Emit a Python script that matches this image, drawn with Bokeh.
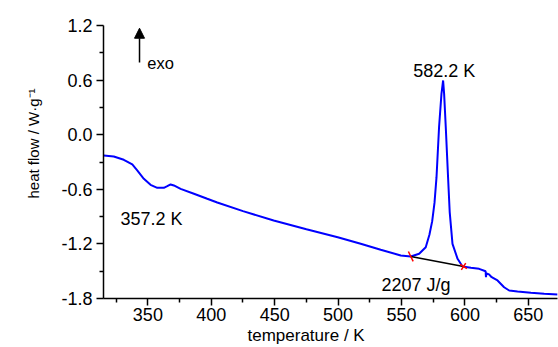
from bokeh.plotting import figure
from bokeh.models import (FixedTicker, PrintfTickFormatter, Label, Arrow,
                          NormalHead, Range1d, Title)
from bokeh.embed import file_html
from bokeh.resources import INLINE

# ---- data ----
temperature = [315.2, 323.1, 331.0, 337.7, 341.6, 346.8, 352.1, 357.4, 362.6,
               365.3, 367.9, 370.5, 375.8, 386.3, 396.8, 404.7, 425.0, 449.2,
               475.0, 499.7, 517.8, 533.6, 549.4, 557.3, 563.9, 569.1, 572.0,
               574.2, 576.0, 577.6, 579.6, 581.5, 582.8, 583.6, 584.9, 586.7,
               588.0, 590.2, 594.2, 598.1, 604.7, 611.2, 616.3, 616.6, 617.0,
               619.0, 621.1, 625.7, 630.9, 634.9, 641.5, 652.0, 662.5, 673.1]
heat_flow = [-0.229, -0.240, -0.276, -0.327, -0.393, -0.485, -0.551, -0.584,
             -0.584, -0.566, -0.547, -0.558, -0.595, -0.649, -0.704, -0.745,
             -0.840, -0.943, -1.040, -1.126, -1.199, -1.265, -1.327, -1.338,
             -1.309, -1.236, -1.100, -0.950, -0.750, -0.467, 0.082, 0.449,
             0.596, 0.449, 0.082, -0.467, -0.850, -1.199, -1.364, -1.448,
             -1.463, -1.474, -1.500, -1.565, -1.525, -1.535, -1.566, -1.602,
             -1.676, -1.712, -1.723, -1.737, -1.748, -1.756]

# integration baseline (onset / end points)
base_T = [557.3, 598.9]
base_HF = [-1.338, -1.448]

x_ticks = [350, 400, 450, 500, 550, 600, 650]
x_minor = [325, 375, 425, 475, 525, 575, 625, 675]
y_ticks = [-1.8, -1.2, -0.6, 0.0, 0.6, 1.2]
y_minor = [-1.5, -0.9, -0.3, 0.3, 0.9]

x_title = "temperature / K"
y_title = "heat flow / W\u00b7g\u207b\u00b9"
peak_label = "582.2 K"
glass_label = "357.2 K"
enthalpy_label = "2207 J/g"

FONT = "Liberation Sans"

p = figure(width=558, height=347, output_backend="svg", toolbar_location=None,
           x_range=Range1d(315, 673), y_range=Range1d(-1.8, 1.2),
           min_border_left=103, min_border_right=1, min_border_top=25,
           min_border_bottom=49, background_fill_color="white",
           border_fill_color="white")
p.outline_line_color = None
p.grid.visible = False

p.line(temperature, heat_flow, line_color="#0000FF", line_width=2)
p.line(base_T, base_HF, line_color="black", line_width=1.5)
p.scatter(base_T[0:1], base_HF[0:1], marker="dash", size=11,
          angle=-1.12, line_color="red", line_width=1.5)
p.scatter(base_T[1:2], base_HF[1:2], marker="x", size=8,
          angle=0.2, line_color="red", line_width=1.5)

for ax in (p.xaxis[0], p.yaxis[0]):
    ax.axis_line_width = 1.5
    ax.major_tick_line_width = 1.5
    ax.minor_tick_line_width = 1.5
    ax.major_tick_out = 7
    ax.major_tick_in = 0
    ax.minor_tick_out = 4
    ax.minor_tick_in = 0
    ax.major_label_text_font = FONT
    ax.major_label_text_font_size = "18px"
    ax.major_label_text_color = "black"
    ax.axis_line_color = "black"
    ax.major_tick_line_color = "black"
    ax.minor_tick_line_color = "black"

p.xaxis.ticker = FixedTicker(ticks=x_ticks, minor_ticks=x_minor)
p.yaxis.ticker = FixedTicker(ticks=y_ticks, minor_ticks=y_minor)
p.yaxis.formatter = PrintfTickFormatter(format="%.1f")
p.xaxis.major_label_standoff = 2
p.yaxis.major_label_standoff = 4

# axis titles as side titles (placed off-centre like the reference)
p.add_layout(Title(text=x_title, align="left", offset=144, standoff=0,
                   text_font=FONT, text_font_size="17px",
                   text_font_style="normal", text_color="black"), "below")
p.add_layout(Title(text=y_title, align="left", offset=100, standoff=33,
                   text_font=FONT, text_font_size="15px",
                   text_font_style="normal", text_color="black"), "left")

# annotations
p.add_layout(Label(x=583.7, y=0.705, text=peak_label, text_align="center",
                   text_baseline="alphabetic", text_font=FONT,
                   text_font_size="18px", text_color="black"))
p.add_layout(Label(x=328.4, y=-0.924, text=glass_label, text_align="left",
                   text_baseline="alphabetic", text_font=FONT,
                   text_font_size="18px", text_color="black"))
p.add_layout(Label(x=534.2, y=-1.657, text=enthalpy_label, text_align="left",
                   text_baseline="alphabetic", text_font=FONT,
                   text_font_size="18px", text_color="black"))
p.add_layout(Label(x=349.5, y=0.793, text="exo", text_align="left",
                   text_baseline="alphabetic", text_font=FONT,
                   text_font_size="16.5px", text_color="black"))
p.add_layout(Arrow(x_start=343.4, y_start=0.793, x_end=343.4, y_end=1.17,
                   line_color="black", line_width=1.5,
                   end=NormalHead(size=10, fill_color="black",
                                  line_color="black", line_width=1)))

open("out.html", "w").write(file_html(p, INLINE))
